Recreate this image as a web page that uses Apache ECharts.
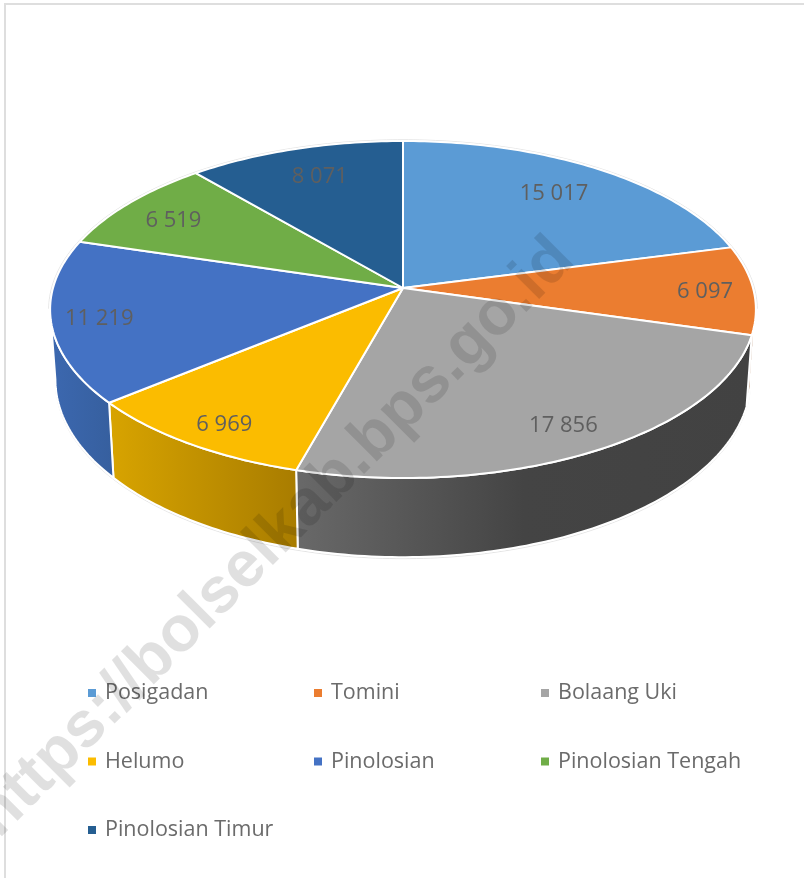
<!DOCTYPE html>
<html>
<head>
<meta charset="utf-8">
<style>
html, body { margin: 0; padding: 0; background: #fff; }
#chart { width: 804px; height: 878px; }
</style>
<script src="https://cdn.jsdelivr.net/npm/echarts@6/dist/echarts.min.js"></script>
</head>
<body>
<div id="chart"></div>
<script>
var categories = ['Posigadan', 'Tomini', 'Bolaang Uki', 'Helumo', 'Pinolosian', 'Pinolosian Tengah', 'Pinolosian Timur'];
var values = [15017, 6097, 17856, 6969, 11219, 6519, 8071];

var colors = ['#5B9BD5', '#EB7D30', '#A5A5A5', '#FBBC00', '#4472C4', '#70AD47', '#255E91'];
// sisi samping pie: warna kiri ke kanan
var rimColors = [
  ['#5B9BD5', '#5B9BD5'], ['#8a4a1c', '#8a4a1c'], ['#696969', '#444444', '#424242'], ['#d8a400', '#a87c00'],
  ['#3c68b0', '#365f9e'], ['#70AD47', '#70AD47'], ['#255E91', '#255E91']
];
var labelRadius = [0.78, 0.862, 0.849, 0.868, 0.866, 0.821, 0.79];
var labelTurn = [-1, 0, 0, -0.8, 0, -0.7, 1];

// proyeksi perspektif piringan
var cx = 403, cy = 288, R = 350, K = 165.8, P = 0.1276;
var depth = 69, narrow = 0.985;
var total = values.reduce(function (a, b) { return a + b; }, 0);

function top3d(deg, r) {
  var a = deg * Math.PI / 180;
  var s = 1 / (1 + P * r * Math.cos(a));
  return [cx + R * r * Math.sin(a) * s, cy - K * r * Math.cos(a) * s];
}
function bottom3d(deg) {
  var a = deg * Math.PI / 180;
  var p = top3d(deg, 1);
  var s = 1 / (1 + P * Math.cos(a));
  return [cx + (p[0] - cx) * narrow, p[1] + depth * s];
}
function arc(fn, from, to) {
  var pts = [];
  var n = Math.max(2, Math.ceil(Math.abs(to - from)));
  for (var i = 0; i <= n; i++) pts.push(fn(from + (to - from) * i / n));
  return pts;
}
function startOf(idx) {
  var sum = 0;
  for (var i = 0; i < idx; i++) sum += values[i];
  return sum / total * 360;
}
function fmt(v) {
  return String(v).replace(/\B(?=(\d{3})+$)/g, ' ');
}

function renderSlice(params, api) {
  var idx = params.seriesIndex - 1;
  var from = startOf(idx);
  var to = from + api.value(0) / total * 360;
  var children = [];
  // bagian depan saja yang kelihatan
  var sFrom = Math.max(from, 97.3), sTo = Math.min(to, 262.7);
  if (sTo > sFrom) {
    var rimPts = arc(function (d) { return top3d(d, 1); }, sFrom, sTo)
      .concat(arc(bottom3d, sTo, sFrom));
    var stops = rimColors[idx].map(function (c, i, arr) {
      return { offset: i / (arr.length - 1), color: c };
    });
    children.push({
      type: 'polygon',
      z2: 1,
      shape: { points: rimPts },
      style: {
        fill: { type: 'linear', x: 0, y: 0, x2: 1, y2: 0, colorStops: stops },
        stroke: '#fff',
        lineWidth: 2
      }
    });
  }
  var pts = [[cx, cy]].concat(arc(function (d) { return top3d(d, 1); }, from, to));
  children.push({
    type: 'polygon',
    z2: 2,
    shape: { points: pts },
    style: { fill: colors[idx], stroke: '#fff', lineWidth: 2, lineJoin: 'round' }
  });
  var lp = top3d((from + to) / 2 + labelTurn[idx], labelRadius[idx]);
  children.push({
    type: 'text',
    z2: 3,
    style: {
      x: lp[0], y: lp[1] + 2, text: fmt(api.value(0)),
      fill: '#5f5f5f', font: '22px "Open Sans"', align: 'center', verticalAlign: 'middle'
    }
  });
  return { type: 'group', children: children };
}

// garis tipis abu-abu di tepi luar
function renderOutline() {
  var outer = arc(function (d) {
    var p = top3d(d, 1);
    return [cx + (p[0] - cx) * 1.004, cy + (p[1] - cy) * 1.008];
  }, -97, 97);
  var lower = arc(bottom3d, 97.3, 262.7).map(function (p) { return [p[0], p[1] + 1.5]; });
  return {
    type: 'group',
    children: [
      { type: 'polyline', z2: 0, shape: { points: outer }, style: { fill: null, stroke: '#e4e4e4', lineWidth: 1 } },
      { type: 'polyline', z2: 0, shape: { points: lower }, style: { fill: null, stroke: '#e4e4e4', lineWidth: 1 } }
    ]
  };
}

var myChart = echarts.init(document.getElementById('chart'));

var series = [{
  type: 'custom', name: 'outline', coordinateSystem: 'none', silent: true,
  renderItem: renderOutline, data: [0]
}];
categories.forEach(function (name, i) {
  series.push({
    type: 'custom',
    name: name,
    coordinateSystem: 'none',
    itemStyle: { color: colors[i] },
    renderItem: renderSlice,
    data: [values[i]]
  });
});

function legendCol(names, left) {
  return {
    orient: 'vertical',
    left: left,
    top: 672,
    icon: 'rect',
    itemWidth: 8,
    itemHeight: 8,
    itemGap: 36.5,
    selectedMode: false,
    data: names,
    textStyle: { color: '#6b6b6b', fontSize: 21.5, fontFamily: 'Open Sans', padding: [0, 0, 0, 4], lineHeight: 32 }
  };
}

var option = {
  animation: false,
  backgroundColor: '#fff',
  legend: [
    legendCol([categories[0], categories[3], categories[6]], 83),
    legendCol([categories[1], categories[4]], 309),
    legendCol([categories[2], categories[5]], 536)
  ],
  series: series,
  graphic: [
    {
      type: 'rect', z: 0, silent: true,
      shape: { x: 5, y: 4, width: 806, height: 880 },
      style: { fill: null, stroke: '#dedede', lineWidth: 2 }
    },
    {
      type: 'text', z: 100, silent: true,
      x: 275, y: 538, rotation: 45 * Math.PI / 180,
      style: {
        text: 'https://bolselkab.bps.go.id',
        font: 'bold 64.5px "Liberation Sans"',
        fill: 'rgba(0,0,0,0.12)', align: 'center', verticalAlign: 'middle'
      }
    }
  ]
};
myChart.setOption(option);
window.addEventListener('resize', function () { myChart.resize(); });
</script>
</body>
</html>
